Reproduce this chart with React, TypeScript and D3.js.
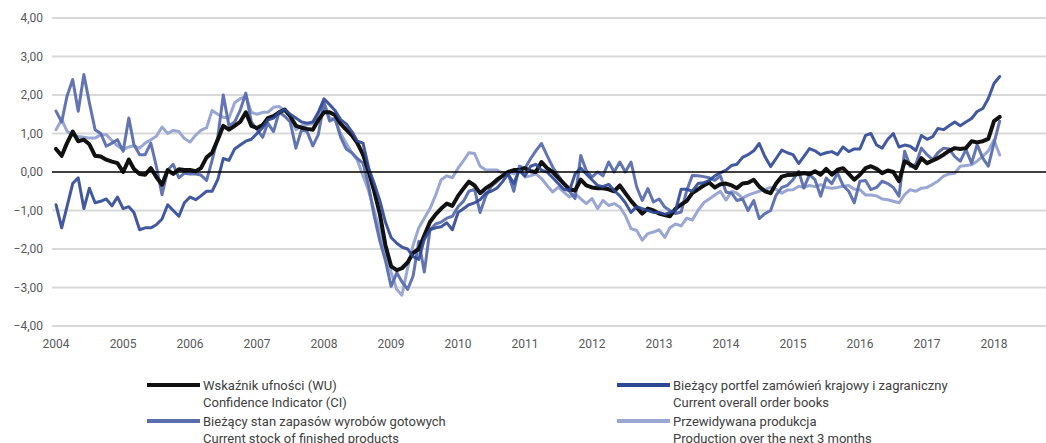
import React from 'react'
import * as d3 from 'd3'

const width = 1046
const height = 443
const margin = { top: 18, left: 56, bottom: 117, right: 0 }

// y ticks and year labels
const yTicks = [4, 3, 2, 1, 0, -1, -2, -3, -4]
const years = [2004, 2005, 2006, 2007, 2008, 2009, 2010, 2011, 2012, 2013, 2014, 2015, 2016, 2017, 2018]

// monthly values, 2004-01 .. 2018-02
const confidence = [
  0.6, 0.42, 0.75, 1.05, 0.8, 0.84, 0.72, 0.42, 0.4, 0.32, 0.27, 0.23,
  0.0, 0.32, 0.08, -0.05, -0.07, 0.1, -0.13, -0.33, 0.05, -0.05, 0.07, 0.05,
  0.05, 0.02, 0.1, 0.38, 0.5, 0.84, 1.2, 1.1, 1.2, 1.3, 1.55, 1.2,
  1.14, 1.22, 1.4, 1.45, 1.55, 1.62, 1.45, 1.2, 1.15, 1.12, 1.1, 1.35,
  1.55, 1.55, 1.48, 1.25, 1.1, 0.95, 0.75, 0.45, 0.0, -0.5, -1.1, -1.9,
  -2.45, -2.55, -2.5, -2.35, -2.1, -2.0, -1.65, -1.3, -1.1, -0.95, -0.82, -0.88,
  -0.62, -0.42, -0.25, -0.35, -0.55, -0.42, -0.33, -0.2, -0.1, 0.0, 0.05, 0.05,
  0.1, 0.02, 0.0, 0.26, 0.1, 0.0, -0.15, -0.3, -0.45, -0.48, -0.2, -0.35,
  -0.4, -0.42, -0.42, -0.45, -0.5, -0.35, -0.55, -0.75, -0.92, -1.08, -0.95, -1.0,
  -1.08, -1.12, -1.15, -0.95, -0.85, -0.75, -0.55, -0.45, -0.35, -0.27, -0.4, -0.32,
  -0.3, -0.35, -0.42, -0.3, -0.28, -0.2, -0.38, -0.5, -0.55, -0.3, -0.12, -0.08,
  -0.07, -0.05, -0.03, -0.06, 0.02, -0.07, 0.08, -0.07, 0.06, 0.1, -0.05, -0.2,
  -0.07, 0.1, 0.15, 0.08, -0.03, 0.04, 0.0, -0.24, 0.28, 0.2, 0.1, 0.36,
  0.23, 0.3, 0.36, 0.45, 0.55, 0.62, 0.6, 0.62, 0.8, 0.77, 0.8, 0.86,
  1.32, 1.43
]

const orderBooks = [
  -0.85, -1.45, -0.9, -0.3, -0.15, -0.95, -0.42, -0.8, -0.76, -0.7, -0.88, -0.65,
  -0.95, -0.9, -1.05, -1.5, -1.45, -1.45, -1.37, -1.22, -0.85, -1.0, -1.15, -0.8,
  -0.65, -0.72, -0.62, -0.5, -0.5, -0.2, 0.35, 0.3, 0.6, 0.7, 0.8, 0.85,
  1.0, 1.15, 1.35, 1.4, 1.55, 1.62, 1.5, 1.4, 1.3, 1.27, 1.3, 1.55,
  1.9, 1.75, 1.6, 1.36, 1.25, 1.05, 0.8, 0.75, 0.1, -0.3, -0.75, -1.3,
  -1.7, -1.85, -1.95, -2.0, -2.2, -2.27, -1.75, -1.5, -1.45, -1.42, -1.32, -1.5,
  -1.05, -0.95, -0.85, -0.8, -0.72, -0.55, -0.5, -0.42, -0.25, -0.05, -0.3, 0.05,
  -0.1, 0.15, 0.2, 0.05, 0.0, -0.15, -0.3, -0.45, -0.48, -0.05, 0.1, -0.05,
  -0.2, -0.35, -0.38, -0.32, -0.48, -0.62, -0.8, -1.05, -0.9, -0.95, -1.0, -1.05,
  -1.05, -1.1, -1.05, -1.0, -0.45, -0.45, -0.5, -0.3, -0.28, -0.22, -0.1, -0.02,
  0.05, 0.17, 0.2, 0.38, 0.45, 0.55, 0.74, 0.4, 0.14, 0.35, 0.57, 0.5,
  0.45, 0.22, 0.4, 0.61, 0.55, 0.45, 0.5, 0.53, 0.45, 0.65, 0.53, 0.6,
  0.6, 0.95, 1.0, 0.7, 0.62, 0.85, 1.0, 0.65, 0.7, 0.67, 0.56, 0.95,
  0.85, 0.92, 1.13, 1.1, 1.2, 1.3, 1.2, 1.3, 1.39, 1.57, 1.65, 1.91,
  2.3, 2.48
]

const stocks = [
  1.58, 1.3, 1.97, 2.4, 1.58, 2.53, 1.8, 1.1, 1.0, 0.67, 0.75, 0.84,
  0.54, 1.4, 0.71, 0.45, 0.45, 0.75, 0.15, -0.59, 0.05, 0.2, -0.15, -0.03,
  -0.05, -0.05, -0.08, -0.22, 0.3, 0.9, 2.0, 1.2, 1.3, 1.6, 2.05, 1.3,
  1.1, 0.9, 1.27, 1.05, 1.55, 1.45, 1.3, 0.62, 1.1, 1.05, 0.68, 0.97,
  1.8, 1.32, 1.4, 0.9, 0.6, 0.5, 0.35, 0.23, -0.37, -1.15, -1.8, -2.3,
  -2.97, -2.62, -2.85, -3.05, -2.7, -1.8, -2.6, -1.5, -1.35, -1.3, -1.2, -1.15,
  -0.9, -0.75, -0.5, -0.45, -1.05, -0.63, -0.37, -0.25, -0.1, -0.05, -0.5, 0.15,
  0.1, 0.35, 0.55, 0.74, 0.43, 0.13, -0.09, -0.3, -0.5, -0.69, 0.43, 0.04,
  -0.13, 0.0, -0.1, 0.26, 0.0, 0.26, 0.0, 0.26, -0.39, -0.74, -0.43, -0.78,
  -0.7, -0.91, -1.0, -1.08, -1.04, -0.48, -0.09, -0.1, -0.12, -0.15, -0.22, -0.1,
  -0.52, -0.55, -0.74, -0.7, -1.0, -0.74, -1.21, -1.08, -1.0, -0.6, -0.4, -0.35,
  -0.2, 0.02, -0.42, -0.07, -0.2, -0.63, -0.16, -0.3, -0.03, -0.35, -0.5, -0.8,
  -0.24, -0.22, -0.46, -0.4, -0.24, -0.3, -0.4, -0.63, 0.54, 0.15, 0.2, 0.62,
  0.45, 0.32, 0.5, 0.62, 0.6, 0.4, 0.28, 0.58, 0.23, 0.71, 0.36, 0.15,
  0.75, 1.32
]

const production = [
  1.1, 1.36, 1.06, 0.95, 0.92, 0.9, 0.88, 0.88, 0.97, 0.97, 0.82, 0.68,
  0.58, 0.65, 0.68, 0.62, 0.75, 0.84, 0.93, 1.17, 1.0, 1.08, 1.05, 0.87,
  0.78, 0.96, 1.08, 1.15, 1.6, 1.5, 1.42, 1.4, 1.8, 1.9, 1.97, 1.55,
  1.5, 1.55, 1.55, 1.68, 1.7, 1.6, 1.45, 1.1, 1.2, 1.23, 1.25, 1.5,
  1.8, 1.4, 1.35, 1.0, 0.75, 0.5, 0.3, -0.1, -0.5, -1.0, -1.55, -2.1,
  -2.6, -3.05, -3.2, -2.5, -1.9, -1.45, -1.2, -0.95, -0.6, -0.2, -0.1, -0.15,
  0.1, 0.3, 0.5, 0.48, 0.15, 0.05, 0.05, 0.05, -0.03, 0.0, -0.05, 0.05,
  -0.13, -0.1, -0.05, -0.17, -0.35, -0.52, -0.39, -0.52, -0.65, -0.56, -0.7, -0.82,
  -0.69, -0.95, -0.74, -0.87, -0.82, -0.91, -1.13, -1.47, -1.52, -1.77, -1.6, -1.56,
  -1.5, -1.7, -1.45, -1.35, -1.4, -1.2, -1.25, -1.0, -0.8, -0.7, -0.6, -0.5,
  -0.73, -0.5, -0.55, -0.68, -0.6, -0.55, -0.5, -0.45, -0.4, -0.45, -0.55, -0.47,
  -0.46, -0.37, -0.4, -0.35, -0.38, -0.33, -0.4, -0.42, -0.4, -0.37, -0.35, -0.45,
  -0.46, -0.6, -0.6, -0.62, -0.7, -0.72, -0.76, -0.8, -0.59, -0.46, -0.5, -0.42,
  -0.4, -0.32, -0.24, -0.11, -0.05, -0.03, 0.15, 0.17, 0.19, 0.28, 0.41, 0.55,
  0.83, 0.44
]

const series = [
  { name: 'production', values: production, color: '#9aa7d3', w: 3, op: 1 },
  { name: 'stocks', values: stocks, color: '#5a6eae', w: 3, op: 0.95 },
  { name: 'confidence', values: confidence, color: '#111111', w: 4, op: 1 },
  { name: 'orders', values: orderBooks, color: '#2d4795', w: 3, op: 0.9 },
]

const legendItems = [
  { color: '#111111', w: 4, pl: 'Wskaźnik ufności (WU)', en: 'Confidence Indicator (CI)', col: 0, row: 0 },
  { color: '#2d4795', w: 4, pl: 'Bieżący portfel zamówień krajowy i zagraniczny', en: 'Current overall order books', col: 1, row: 0 },
  { color: '#5a6eae', w: 4, pl: 'Bieżący stan zapasów wyrobów gotowych', en: 'Current stock of finished products', col: 0, row: 1 },
  { color: '#9aa7d3', w: 4, pl: 'Przewidywana produkcja', en: 'Production over the next 3 months', col: 1, row: 1 },
]

const font = "'Roboto', 'Liberation Sans', sans-serif"

const App = () => {
  const start = new Date(2004, 0, 1)
  const x = d3.scaleTime()
    .domain([start, new Date(2018, 0, 1)])
    .range([margin.left, 994])
  const y = d3.scaleLinear()
    .domain([-4, 4])
    .range([height - margin.bottom, margin.top])

  const monthDate = (i: number) => d3.timeMonth.offset(start, i)
  const line = d3.line<number>()
    .x((d, i) => x(monthDate(i)))
    .y(d => y(d))

  const fmt = (v: number) => d3.format('.2f')(v).replace('.', ',').replace('-', '-')

  return (
    <svg width={width} height={height} style={{ position: 'absolute', left: 0, top: 0 }} fontFamily={font}>
      <rect width={width} height={height} fill="#fff" />
      {yTicks.map(t => (
        <g key={t}>
          {t !== 0 && <line x1={52} x2={width} y1={y(t)} y2={y(t)} stroke="#d9d9d9" strokeWidth={2} />}
          <text x={43} y={y(t)} dy="0.35em" textAnchor="end" fontSize={12} fill="#595959">{fmt(t)}</text>
        </g>
      ))}
      {years.map(yr => (
        <text key={yr} x={x(new Date(yr, 0, 1))} y={344} dy="0.35em" textAnchor="middle" fontSize={12} fill="#595959">{yr}</text>
      ))}
      {series.map(s => (
        <path key={s.name} d={line(s.values) || ''} fill="none" stroke={s.color} strokeWidth={s.w}
          strokeOpacity={s.op} strokeLinejoin="round" strokeLinecap="round" />
      ))}
      <line x1={52} x2={width} y1={y(0)} y2={y(0)} stroke="#000" strokeWidth={1.3} />
      {legendItems.map(it => {
        const lx = it.col === 0 ? 147 : 617
        const ly = it.row === 0 ? 385 : 421
        return (
          <g key={it.pl}>
            <line x1={lx} x2={lx + 53} y1={ly} y2={ly} stroke={it.color} strokeWidth={it.w} />
            <text x={lx + 56} y={ly} dy="0.35em" fontSize={13} fill="#404040">{it.pl}</text>
            <text x={lx + 56} y={ly + 17} dy="0.35em" fontSize={13} fill="#404040">{it.en}</text>
          </g>
        )
      })}
    </svg>
  )
}

export default App
